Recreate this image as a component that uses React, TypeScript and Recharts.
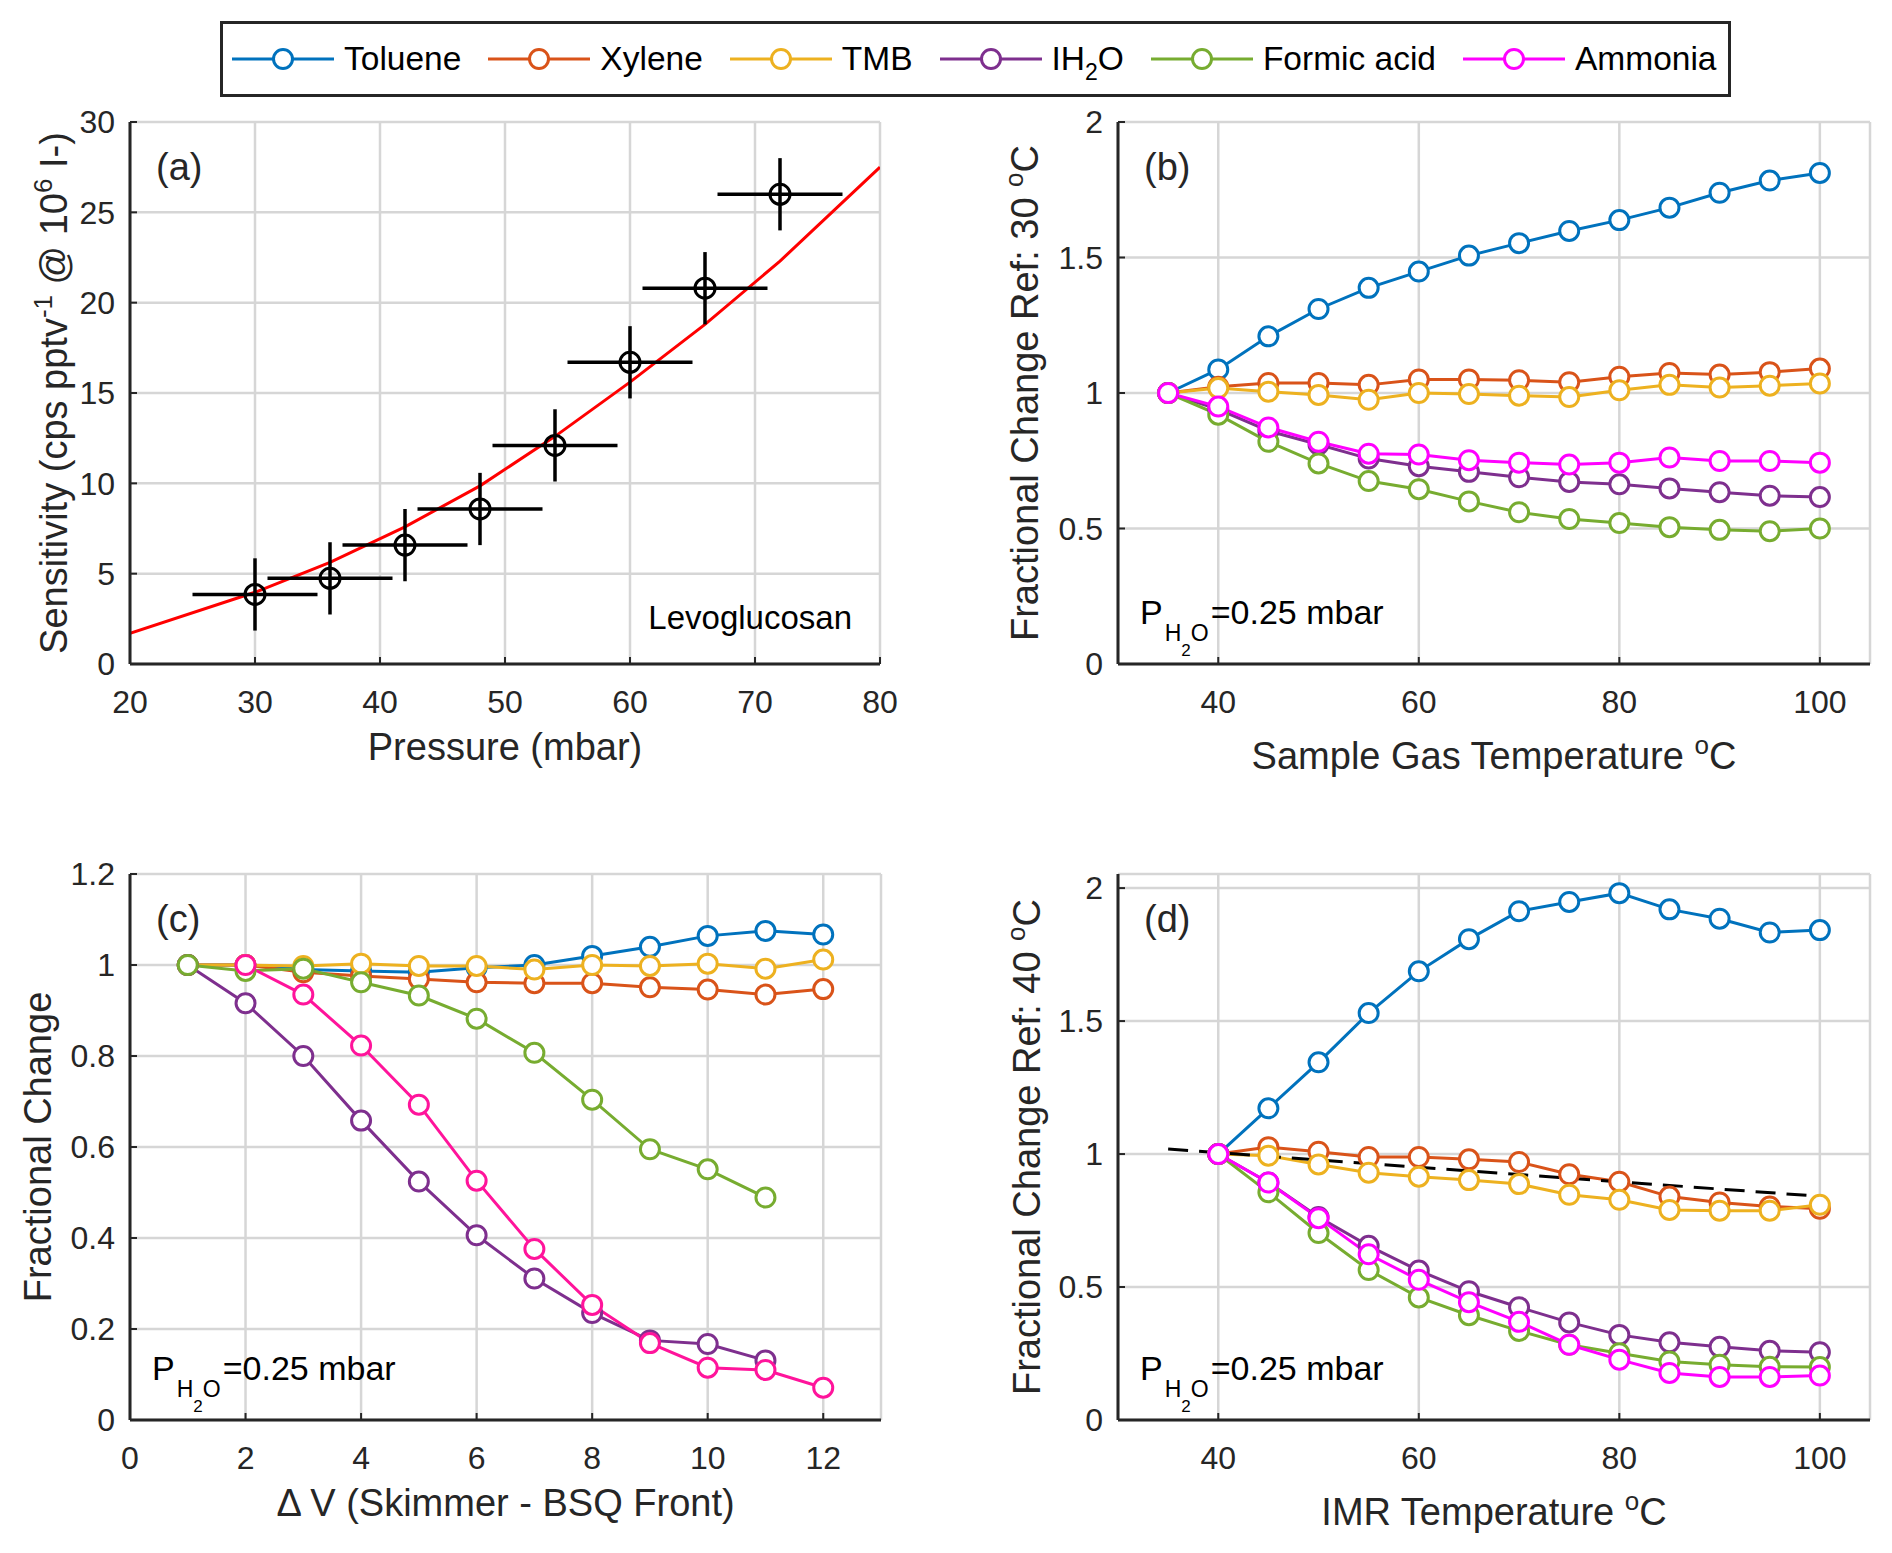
import React from 'react';
import { ComposedChart, Line, Scatter, ErrorBar, XAxis, YAxis, CartesianGrid } from 'recharts';

const FONT = '"Liberation Sans", Arial, Helvetica, sans-serif';
const INK = '#262626';
const GRID = '#d6d6d6';

// (a) sensitivity vs pressure, levoglucosan
const pressure = [30, 36, 42, 48, 54, 60, 66, 72];
const sensitivity = [3.85, 4.74, 6.58, 8.58, 12.1, 16.7, 20.8, 26.0];
const pressureErr = [5, 5, 5, 5, 5, 5, 5, 5];
const sensitivityErr = [2, 2, 2, 2, 2, 2, 2, 2];
const fitPressure = [20, 30, 36, 42, 48, 54, 60, 66, 72, 80];
const fitSensitivity = [1.7, 3.97, 5.62, 7.59, 9.86, 12.6, 15.6, 18.8, 22.3, 27.5];

// (b) sample gas temperature
const sampleTemp = [35, 40, 45, 50, 55, 60, 65, 70, 75, 80, 85, 90, 95, 100];
const bToluene = [1.0, 1.087, 1.209, 1.31, 1.388, 1.448, 1.507, 1.553, 1.598, 1.638, 1.684, 1.739, 1.784, 1.812];
const bXylene = [1.0, 1.023, 1.037, 1.037, 1.03, 1.05, 1.05, 1.047, 1.04, 1.06, 1.074, 1.068, 1.077, 1.09];
const bTmb = [1.0, 1.018, 1.005, 0.993, 0.975, 1.0, 0.996, 0.99, 0.985, 1.01, 1.03, 1.02, 1.027, 1.035];
const bIh2o = [1.0, 0.94, 0.86, 0.81, 0.758, 0.73, 0.709, 0.689, 0.672, 0.663, 0.648, 0.634, 0.621, 0.616];
const bFormic = [1.0, 0.92, 0.82, 0.74, 0.675, 0.645, 0.6, 0.56, 0.535, 0.52, 0.505, 0.495, 0.49, 0.5];
const bAmmonia = [1.0, 0.95, 0.873, 0.82, 0.776, 0.773, 0.752, 0.743, 0.736, 0.743, 0.762, 0.749, 0.749, 0.743];

// (c) skimmer - BSQ front voltage
const deltaV = [1, 2, 3, 4, 5, 6, 7, 8, 9, 10, 11, 12];
const cToluene = [1.0, 1.0, 0.99, 0.987, 0.984, 0.994, 1.0, 1.02, 1.04, 1.064, 1.075, 1.067];
const cXylene = [1.0, 1.0, 0.984, 0.976, 0.969, 0.962, 0.96, 0.96, 0.951, 0.946, 0.935, 0.947];
const cTmb = [1.0, 1.0, 0.998, 1.003, 0.998, 0.998, 0.99, 1.0, 0.998, 1.003, 0.992, 1.012];
const cIh2o = [1.0, 0.916, 0.8, 0.658, 0.524, 0.406, 0.311, 0.235, 0.175, 0.167, 0.131, null];
const cFormic = [1.0, 0.987, 0.992, 0.962, 0.933, 0.882, 0.807, 0.704, 0.595, 0.551, 0.489, null];
const cAmmonia = [null, 1.0, 0.935, 0.823, 0.693, 0.526, 0.376, 0.253, 0.169, 0.115, 0.11, 0.071];

// (d) IMR temperature
const imrTemp = [40, 45, 50, 55, 60, 65, 70, 75, 80, 85, 90, 95, 100];
const dToluene = [1.0, 1.172, 1.345, 1.53, 1.687, 1.808, 1.913, 1.948, 1.981, 1.92, 1.885, 1.833, 1.842];
const dXylene = [1.0, 1.026, 1.009, 0.989, 0.989, 0.98, 0.97, 0.924, 0.896, 0.84, 0.818, 0.803, 0.794];
const dTmb = [1.0, 0.994, 0.961, 0.93, 0.915, 0.902, 0.887, 0.847, 0.828, 0.79, 0.787, 0.787, 0.809];
const dIh2o = [1.0, 0.893, 0.763, 0.655, 0.562, 0.484, 0.424, 0.367, 0.32, 0.292, 0.275, 0.26, 0.255];
const dFormic = [1.0, 0.856, 0.703, 0.564, 0.461, 0.394, 0.335, 0.283, 0.251, 0.22, 0.208, 0.2, 0.199];
const dAmmonia = [1.0, 0.893, 0.759, 0.623, 0.527, 0.443, 0.369, 0.283, 0.227, 0.177, 0.162, 0.162, 0.167];
const dashTemp = [35, 100];
const dashRatio = [1.019, 0.841];

const SERIES = [
    { key: 'toluene', color: '#0072BD' },
    { key: 'xylene', color: '#D95319' },
    { key: 'tmb', color: '#EDB120' },
    { key: 'ih2o', color: '#7E2F8E' },
    { key: 'formic', color: '#77AC30' },
    { key: 'ammonia', color: '#FF00FF' },
];

type Row = Record<string, number | null>;
const mk = (xs: number[], cols: Record<string, (number | null)[]>): Row[] =>
    xs.map((x, i) => {
        const row: Row = { x };
        Object.keys(cols).forEach((k) => {
            row[k] = cols[k][i];
        });
        return row;
    });

const aPoints = pressure.map((x, i) => ({ x, y: sensitivity[i], xErr: pressureErr[i], yErr: sensitivityErr[i] }));
const aFit = mk(fitPressure, { fit: fitSensitivity });
const bData = mk(sampleTemp, { toluene: bToluene, xylene: bXylene, tmb: bTmb, ih2o: bIh2o, formic: bFormic, ammonia: bAmmonia });
const cData = mk(deltaV, { toluene: cToluene, xylene: cXylene, tmb: cTmb, ih2o: cIh2o, formic: cFormic, ammonia: cAmmonia });
const dData = mk(imrTemp, { toluene: dToluene, xylene: dXylene, tmb: dTmb, ih2o: dIh2o, formic: dFormic, ammonia: dAmmonia });
const dDash = mk(dashTemp, { dash: dashRatio });

// space around each plot box inside its chart
const L = 130;
const T = 20;
const R = 20;
const B = 130;

const tickStyle = { fontSize: 32, fill: INK, fontFamily: FONT };
const axisLine = { stroke: INK, strokeWidth: 3 };
const tickLine = { stroke: INK, strokeWidth: 2 };

function frame(xDomain: number[], xTicks: number[], yDomain: number[], yTicks: number[]) {
    return [
        <CartesianGrid key="grid" stroke={GRID} strokeWidth={2.5} />,
        <XAxis key="xb" dataKey="x" type="number" domain={xDomain} ticks={xTicks} allowDataOverflow interval={0}
            height={B} tickSize={-7} tickMargin={33} tick={tickStyle} axisLine={axisLine} tickLine={tickLine} />,
        <XAxis key="xt" xAxisId="top" orientation="top" dataKey="x" type="number" domain={xDomain} ticks={xTicks}
            allowDataOverflow interval={0} height={0} tickSize={-7} tick={false} axisLine={axisLine} tickLine={tickLine} />,
        <YAxis key="yl" type="number" domain={yDomain} ticks={yTicks} allowDataOverflow interval={0}
            width={L} tickSize={-7} tickMargin={22} tick={tickStyle} axisLine={axisLine} tickLine={tickLine} />,
        <YAxis key="yr" yAxisId="right" orientation="right" type="number" domain={yDomain} ticks={yTicks}
            allowDataOverflow interval={0} width={0} tickSize={-7} tick={false} axisLine={axisLine} tickLine={tickLine} />,
    ];
}

function seriesLines(ammoniaColor: string) {
    return SERIES.map((s) => (
        <Line
            key={s.key}
            type="linear"
            dataKey={s.key}
            stroke={s.key === 'ammonia' ? ammoniaColor : s.color}
            strokeWidth={3}
            dot={{ r: 9.5, fill: '#ffffff', strokeWidth: 3 }}
            activeDot={false}
            isAnimationActive={false}
        />
    ));
}

type Box = { x: number; y: number; w: number; h: number };

function Panel({ box, data, children, overlay }: { box: Box; data: Row[]; children: React.ReactNode; overlay: React.ReactNode }) {
    const W = box.w + L + R;
    const H = box.h + T + B;
    return (
        <div style={{ position: 'absolute', left: box.x - L, top: box.y - T, width: W, height: H }}>
            <ComposedChart width={W} height={H} data={data} margin={{ top: T, right: R, bottom: 0, left: 0 }}>
                {children}
            </ComposedChart>
            <svg width={W} height={H} style={{ position: 'absolute', left: 0, top: 0, pointerEvents: 'none', overflow: 'visible' }}
                fontFamily={FONT} fill={INK}>
                {overlay}
            </svg>
        </div>
    );
}

// raised text followed by text back on the baseline
const Sup = ({ t, after }: { t: string; after: string }) => (
    <>
        <tspan fontSize={26} dy={-15}>{t}</tspan>
        <tspan dy={15}>{after}</tspan>
    </>
);

function YTitle({ x, y, children }: { x: number; y: number; children: React.ReactNode }) {
    return (
        <text transform={`translate(${x},${y}) rotate(-90)`} textAnchor="middle" fontSize={38}>
            {children}
        </text>
    );
}

function XTitle({ x, y, children }: { x: number; y: number; children: React.ReactNode }) {
    return (
        <text x={x} y={y} textAnchor="middle" fontSize={38}>
            {children}
        </text>
    );
}

const Letter = ({ t }: { t: string }) => (
    <text x={L + 26} y={T + 58} fontSize={38}>{t}</text>
);

const PH2O = ({ h }: { h: number }) => (
    <text x={L + 22} y={T + h - 40} fontSize={34} fill="#000">
        P<tspan fontSize={23} dy={17} dx={2}>H</tspan>
        <tspan fontSize={17} dy={15}>2</tspan>
        <tspan fontSize={23} dy={-15}>O</tspan>
        <tspan dy={-17} dx={2}>=0.25 mbar</tspan>
    </text>
);

const A: Box = { x: 130, y: 122, w: 750, h: 542 };
const Bx: Box = { x: 1118, y: 122, w: 752, h: 542 };
const C: Box = { x: 130, y: 874, w: 751, h: 546 };
const D: Box = { x: 1118, y: 874, w: 752, h: 546 };

function LegendBox() {
    const labels: Record<string, React.ReactNode> = {
        toluene: 'Toluene',
        xylene: 'Xylene',
        tmb: 'TMB',
        ih2o: (
            <>
                IH<span style={{ fontSize: 23, position: 'relative', top: 10 }}>2</span>O
            </>
        ),
        formic: 'Formic acid',
        ammonia: 'Ammonia',
    };
    return (
        <div
            style={{
                position: 'absolute', left: 220, top: 21, width: 1511, height: 76, boxSizing: 'border-box',
                border: `3px solid ${INK}`, display: 'flex', alignItems: 'center', paddingLeft: 9, gap: 27,
                fontFamily: FONT, fontSize: 33.5, lineHeight: 1, color: '#000', background: '#fff',
            }}
        >
            {SERIES.map((s) => (
                <div key={s.key} style={{ display: 'flex', alignItems: 'center' }}>
                    <svg width={102} height={30}>
                        <line x1={0} y1={15} x2={102} y2={15} stroke={s.color} strokeWidth={3} />
                        <circle cx={51} cy={15} r={9.5} fill="#fff" stroke={s.color} strokeWidth={3} />
                    </svg>
                    <span style={{ marginLeft: 10 }}>{labels[s.key]}</span>
                </div>
            ))}
        </div>
    );
}

export default function App() {
    return (
        <div style={{ position: 'absolute', left: 0, top: 0, width: 1892, height: 1553, background: '#fff', fontFamily: FONT }}>
            <LegendBox />

            <Panel
                box={A}
                data={aFit}
                overlay={
                    <>
                        <Letter t="(a)" />
                        <text x={L + A.w - 28} y={T + A.h - 35} textAnchor="end" fontSize={33} fill="#000">Levoglucosan</text>
                        <XTitle x={L + A.w / 2} y={T + A.h + 96}>Pressure (mbar)</XTitle>
                        <YTitle x={L - 63} y={T + A.h / 2}>
                            Sensitivity (cps pptv<Sup t="-1" after=" @ 10" /><Sup t="6" after=" I-)" />
                        </YTitle>
                    </>
                }
            >
                {frame([20, 80], [20, 30, 40, 50, 60, 70, 80], [0, 30], [0, 5, 10, 15, 20, 25, 30])}
                <Line type="linear" dataKey="fit" stroke="#FF0000" strokeWidth={3} dot={false} activeDot={false} isAnimationActive={false} />
                <Scatter
                    data={aPoints}
                    dataKey="y"
                    isAnimationActive={false}
                    shape={(p: any) => <circle cx={p.cx} cy={p.cy} r={10} fill="none" stroke="#000" strokeWidth={3} />}
                >
                    <ErrorBar dataKey="xErr" direction="x" width={0} stroke="#000" strokeWidth={3.5} isAnimationActive={false} />
                    <ErrorBar dataKey="yErr" direction="y" width={0} stroke="#000" strokeWidth={3.5} isAnimationActive={false} />
                </Scatter>
            </Panel>

            <Panel
                box={Bx}
                data={bData}
                overlay={
                    <>
                        <Letter t="(b)" />
                        <PH2O h={Bx.h} />
                        <XTitle x={L + Bx.w / 2} y={T + Bx.h + 105}>
                            Sample Gas Temperature <Sup t="o" after="C" />
                        </XTitle>
                        <YTitle x={L - 80} y={T + Bx.h / 2}>
                            Fractional Change Ref: 30 <Sup t="o" after="C" />
                        </YTitle>
                    </>
                }
            >
                {frame([30, 105], [40, 60, 80, 100], [0, 2], [0, 0.5, 1, 1.5, 2])}
                {seriesLines('#FF00FF')}
            </Panel>

            <Panel
                box={C}
                data={cData}
                overlay={
                    <>
                        <Letter t="(c)" />
                        <PH2O h={C.h} />
                        <XTitle x={L + C.w / 2} y={T + C.h + 96}>{'\u0394'} V (Skimmer - BSQ Front)</XTitle>
                        <YTitle x={L - 79} y={T + C.h / 2}>Fractional Change</YTitle>
                    </>
                }
            >
                {frame([0, 13], [0, 2, 4, 6, 8, 10, 12], [0, 1.2], [0, 0.2, 0.4, 0.6, 0.8, 1, 1.2])}
                {seriesLines('#FF149B')}
            </Panel>

            <Panel
                box={D}
                data={dData}
                overlay={
                    <>
                        <Letter t="(d)" />
                        <PH2O h={D.h} />
                        <XTitle x={L + D.w / 2} y={T + D.h + 105}>
                            IMR Temperature <Sup t="o" after="C" />
                        </XTitle>
                        <YTitle x={L - 78} y={T + D.h / 2}>
                            Fractional Change Ref: 40 <Sup t="o" after="C" />
                        </YTitle>
                    </>
                }
            >
                {frame([30, 105], [40, 60, 80, 100], [0, 2.053], [0, 0.5, 1, 1.5, 2])}
                {seriesLines('#FF00FF')}
                <Line data={dDash} type="linear" dataKey="dash" stroke="#000" strokeWidth={3} strokeDasharray="20 11"
                    dot={false} activeDot={false} isAnimationActive={false} />
            </Panel>
        </div>
    );
}
